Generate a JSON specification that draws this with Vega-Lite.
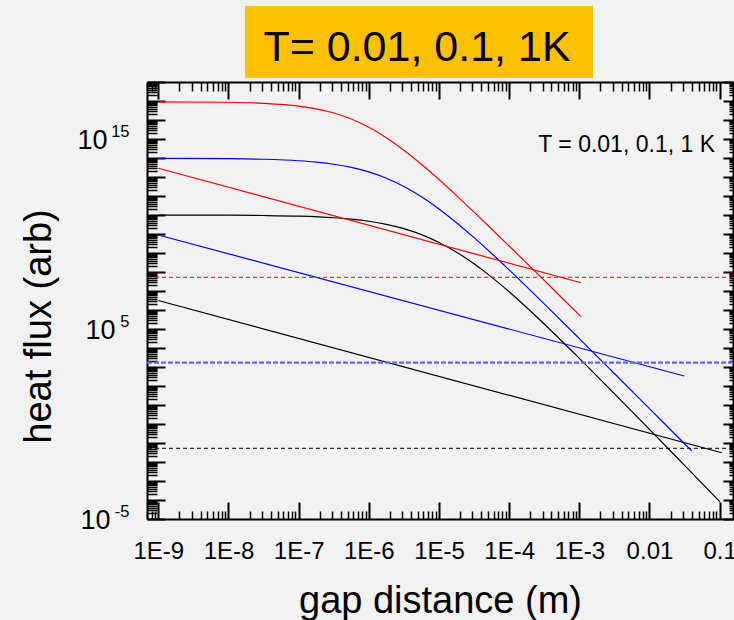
{
  "$schema": "https://vega.github.io/schema/vega-lite/v6.json",
  "width": 586,
  "height": 437,
  "autosize": "none",
  "padding": {"left": 147, "top": 82, "right": 1, "bottom": 101},
  "background": "#F2F2F2",
  "config": {
    "view": {"stroke": null},
    "font": "Liberation Sans",
    "axis": {"grid": false, "domainColor": "#000000", "tickColor": "#000000", "labelColor": "#000000", "titleColor": "#000000", "labelFlush": false, "labelOverlap": false}
  },
  "datasets": {
    "curves": [
      {"T": "1 K", "curve": "1 K near", "x": 1e-9, "y": 9.10e16},
      {"T": "1 K", "curve": "1 K near", "x": 1e-8, "y": 8.57e16},
      {"T": "1 K", "curve": "1 K near", "x": 3.162e-8, "y": 7.55e16},
      {"T": "1 K", "curve": "1 K near", "x": 1e-7, "y": 5.38e16},
      {"T": "1 K", "curve": "1 K near", "x": 1.778e-7, "y": 3.85e16},
      {"T": "1 K", "curve": "1 K near", "x": 3.162e-7, "y": 2.33e16},
      {"T": "1 K", "curve": "1 K near", "x": 5.623e-7, "y": 1.12e16},
      {"T": "1 K", "curve": "1 K near", "x": 1e-6, "y": 4.14e15},
      {"T": "1 K", "curve": "1 K near", "x": 1.778e-6, "y": 1.164e15},
      {"T": "1 K", "curve": "1 K near", "x": 3.162e-6, "y": 2.57e14},
      {"T": "1 K", "curve": "1 K near", "x": 5.623e-6, "y": 4.67e13},
      {"T": "1 K", "curve": "1 K near", "x": 1e-5, "y": 7.36e12},
      {"T": "1 K", "curve": "1 K near", "x": 1.778e-5, "y": 1.054e12},
      {"T": "1 K", "curve": "1 K near", "x": 3.162e-5, "y": 1.419e11},
      {"T": "1 K", "curve": "1 K near", "x": 5.623e-5, "y": 1.841e10},
      {"T": "1 K", "curve": "1 K near", "x": 1e-4, "y": 2.328e9},
      {"T": "1 K", "curve": "1 K near", "x": 3.162e-4, "y": 3.606e7},
      {"T": "1 K", "curve": "1 K near", "x": 5.623e-4, "y": 4.44e6},
      {"T": "1 K", "curve": "1 K near", "x": 1.057e-3, "y": 4.46e5},
      {"T": "0.1 K", "curve": "0.1 K near", "x": 1e-9, "y": 9.57e13},
      {"T": "0.1 K", "curve": "0.1 K near", "x": 1e-8, "y": 9.20e13},
      {"T": "0.1 K", "curve": "0.1 K near", "x": 3.162e-8, "y": 8.57e13},
      {"T": "0.1 K", "curve": "0.1 K near", "x": 1e-7, "y": 7.16e13},
      {"T": "0.1 K", "curve": "0.1 K near", "x": 1.778e-7, "y": 6.05e13},
      {"T": "0.1 K", "curve": "0.1 K near", "x": 3.162e-7, "y": 4.69e13},
      {"T": "0.1 K", "curve": "0.1 K near", "x": 5.623e-7, "y": 3.20e13},
      {"T": "0.1 K", "curve": "0.1 K near", "x": 1e-6, "y": 1.845e13},
      {"T": "0.1 K", "curve": "0.1 K near", "x": 1.778e-6, "y": 8.63e12},
      {"T": "0.1 K", "curve": "0.1 K near", "x": 3.162e-6, "y": 3.17e12},
      {"T": "0.1 K", "curve": "0.1 K near", "x": 5.623e-6, "y": 9.12e11},
      {"T": "0.1 K", "curve": "0.1 K near", "x": 1e-5, "y": 2.09e11},
      {"T": "0.1 K", "curve": "0.1 K near", "x": 1.778e-5, "y": 3.94e10},
      {"T": "0.1 K", "curve": "0.1 K near", "x": 3.162e-5, "y": 6.43e9},
      {"T": "0.1 K", "curve": "0.1 K near", "x": 5.623e-5, "y": 9.44e8},
      {"T": "0.1 K", "curve": "0.1 K near", "x": 1e-4, "y": 1.285e8},
      {"T": "0.1 K", "curve": "0.1 K near", "x": 3.162e-4, "y": 2.094e6},
      {"T": "0.1 K", "curve": "0.1 K near", "x": 1e-3, "y": 3.14e4},
      {"T": "0.1 K", "curve": "0.1 K near", "x": 3.162e-3, "y": 454},
      {"T": "0.1 K", "curve": "0.1 K near", "x": 0.01, "y": 6.47},
      {"T": "0.1 K", "curve": "0.1 K near", "x": 0.03162, "y": 0.0916},
      {"T": "0.1 K", "curve": "0.1 K near", "x": 0.04, "y": 0.0385},
      {"T": "0.01 K", "curve": "0.01 K near", "x": 1e-9, "y": 9.95e10},
      {"T": "0.01 K", "curve": "0.01 K near", "x": 1e-8, "y": 9.75e10},
      {"T": "0.01 K", "curve": "0.01 K near", "x": 3.162e-8, "y": 9.42e10},
      {"T": "0.01 K", "curve": "0.01 K near", "x": 1e-7, "y": 8.69e10},
      {"T": "0.01 K", "curve": "0.01 K near", "x": 3.162e-7, "y": 7.18e10},
      {"T": "0.01 K", "curve": "0.01 K near", "x": 5.623e-7, "y": 6.04e10},
      {"T": "0.01 K", "curve": "0.01 K near", "x": 1e-6, "y": 4.68e10},
      {"T": "0.01 K", "curve": "0.01 K near", "x": 1.778e-6, "y": 3.22e10},
      {"T": "0.01 K", "curve": "0.01 K near", "x": 3.162e-6, "y": 1.905e10},
      {"T": "0.01 K", "curve": "0.01 K near", "x": 5.623e-6, "y": 9.27e9},
      {"T": "0.01 K", "curve": "0.01 K near", "x": 1e-5, "y": 3.60e9},
      {"T": "0.01 K", "curve": "0.01 K near", "x": 1.778e-5, "y": 1.107e9},
      {"T": "0.01 K", "curve": "0.01 K near", "x": 3.162e-5, "y": 2.70e8},
      {"T": "0.01 K", "curve": "0.01 K near", "x": 5.623e-5, "y": 5.38e7},
      {"T": "0.01 K", "curve": "0.01 K near", "x": 1e-4, "y": 9.10e6},
      {"T": "0.01 K", "curve": "0.01 K near", "x": 3.162e-4, "y": 1.84e5},
      {"T": "0.01 K", "curve": "0.01 K near", "x": 1e-3, "y": 2858},
      {"T": "0.01 K", "curve": "0.01 K near", "x": 3.162e-3, "y": 39.4},
      {"T": "0.01 K", "curve": "0.01 K near", "x": 0.01, "y": 0.518},
      {"T": "0.01 K", "curve": "0.01 K near", "x": 0.03162, "y": 0.00661},
      {"T": "0.01 K", "curve": "0.01 K near", "x": 0.1009, "y": 8.09e-5},
      {"T": "1 K", "curve": "1 K far", "x": 1e-9, "y": 2.88e13},
      {"T": "1 K", "curve": "1 K far", "x": 1.057e-3, "y": 2.73e7},
      {"T": "0.1 K", "curve": "0.1 K far", "x": 1e-9, "y": 8.85e9},
      {"T": "0.1 K", "curve": "0.1 K far", "x": 0.0313, "y": 336},
      {"T": "0.01 K", "curve": "0.01 K far", "x": 1e-9, "y": 3.16e6},
      {"T": "0.01 K", "curve": "0.01 K far", "x": 0.107, "y": 0.0308}
    ],
    "limits": [
      {"T": "1 K", "y": 5.26e7},
      {"T": "0.1 K", "y": 1680},
      {"T": "0.01 K", "y": 0.0526}
    ]
  },
  "layer": [
    {
      "data": {"name": "curves"},
      "mark": {"type": "line", "strokeWidth": 1.2, "interpolate": "monotone"},
      "encoding": {
        "x": {
          "field": "x", "type": "quantitative",
          "scale": {"type": "log", "domain": [6.9e-10, 0.155], "nice": false},
          "axis": {
            "orient": "bottom",
            "values": [1e-9, 1e-8, 1e-7, 1e-6, 1e-5, 1e-4, 1e-3, 0.01, 0.1],
            "tickSize": -17, "tickWidth": 2, "domainWidth": 2,
            "labelPadding": 37, "labelFontSize": 24,
            "labelExpr": "datum.value > 0.05 ? '0.1' : datum.value > 0.005 ? '0.01' : '1E' + round(log(datum.value) / LN10)",
            "title": "gap distance (m)", "titleFontSize": 38, "titleFontWeight": "normal",
            "titleX": 293, "titleY": 93, "titleAlign": "center", "titleBaseline": "alphabetic"
          }
        },
        "y": {
          "field": "y", "type": "quantitative",
          "scale": {"type": "log", "domain": [1e-5, 1e18], "nice": false},
          "axis": {
            "orient": "left",
            "values": [1e-5, 1e-4, 1e-3, 1e-2, 1e-1, 1, 10, 100, 1e3, 1e4, 1e5, 1e6, 1e7, 1e8, 1e9, 1e10, 1e11, 1e12, 1e13, 1e14, 1e15, 1e16, 1e17, 1e18],
            "tickSize": -18, "tickWidth": 2, "domainWidth": 2,
            "labelPadding": {"condition": [{"test": "datum.value > 1e10", "value": 58}, {"test": "datum.value > 1", "value": 50}], "value": 55},
            "labelFontSize": 27, "labelOffset": 1.5, "labelBaseline": "middle",
            "labelExpr": "(abs(log(datum.value) / LN10 - 15) < 0.01 || abs(log(datum.value) / LN10 - 5) < 0.01 || abs(log(datum.value) / LN10 + 5) < 0.01) ? '10' : ''",
            "title": "heat flux (arb)", "titleFontSize": 38, "titleFontWeight": "normal",
            "titleX": -97, "titleY": 244, "titleAngle": -90, "titleAlign": "center", "titleBaseline": "alphabetic"
          }
        },
        "color": {
          "field": "T", "type": "nominal",
          "scale": {"domain": ["1 K", "0.1 K", "0.01 K"], "range": ["#FF0000", "#0000FF", "#000000"]},
          "legend": null
        },
        "detail": {"field": "curve"}
      }
    },
    {
      "data": {"name": "limits"},
      "mark": {"type": "rule"},
      "encoding": {
        "y": {
          "field": "y", "type": "quantitative",
          "scale": {"type": "log", "domain": [1e-5, 1e18], "nice": false},
          "axis": {
            "orient": "left",
            "values": [2e-5,3e-5,4e-5,5e-5,6e-5,7e-5,8e-5,9e-5,2e-4,3e-4,4e-4,5e-4,6e-4,7e-4,8e-4,9e-4,2e-3,3e-3,4e-3,5e-3,6e-3,7e-3,8e-3,9e-3,0.02,0.03,0.04,0.05,0.06,0.07,0.08,0.09,0.2,0.3,0.4,0.5,0.6,0.7,0.8,0.9,2,3,4,5,6,7,8,9,20,30,40,50,60,70,80,90,200,300,400,500,600,700,800,900,2e3,3e3,4e3,5e3,6e3,7e3,8e3,9e3,2e4,3e4,4e4,5e4,6e4,7e4,8e4,9e4,2e5,3e5,4e5,5e5,6e5,7e5,8e5,9e5,2e6,3e6,4e6,5e6,6e6,7e6,8e6,9e6,2e7,3e7,4e7,5e7,6e7,7e7,8e7,9e7,2e8,3e8,4e8,5e8,6e8,7e8,8e8,9e8,2e9,3e9,4e9,5e9,6e9,7e9,8e9,9e9,2e10,3e10,4e10,5e10,6e10,7e10,8e10,9e10,2e11,3e11,4e11,5e11,6e11,7e11,8e11,9e11,2e12,3e12,4e12,5e12,6e12,7e12,8e12,9e12,2e13,3e13,4e13,5e13,6e13,7e13,8e13,9e13,2e14,3e14,4e14,5e14,6e14,7e14,8e14,9e14,2e15,3e15,4e15,5e15,6e15,7e15,8e15,9e15,2e16,3e16,4e16,5e16,6e16,7e16,8e16,9e16,2e17,3e17,4e17,5e17,6e17,7e17,8e17,9e17],
            "tickSize": -10, "tickWidth": 1.5, "labels": false, "domain": false, "title": null
          }
        },
        "color": {
          "field": "T", "type": "nominal",
          "scale": {"domain": ["1 K", "0.1 K", "0.01 K"], "range": ["#FF0000", "#6464FF", "#000000"]},
          "legend": null
        },
        "strokeDash": {
          "field": "T", "type": "nominal",
          "scale": {"domain": ["1 K", "0.1 K", "0.01 K"], "range": [[4, 3], [5, 2], [4, 3]]},
          "legend": null
        },
        "strokeWidth": {
          "field": "T", "type": "nominal",
          "scale": {"type": "ordinal", "domain": ["1 K", "0.1 K", "0.01 K"], "range": [1, 2.2, 1]},
          "legend": null
        }
      }
    },
    {
      "data": {"values": [{}]},
      "mark": {"type": "rect", "color": "#FFC000"},
      "encoding": {
        "x": {
          "datum": 1.72e-8, "type": "quantitative",
          "scale": {"type": "log", "domain": [6.9e-10, 0.155], "nice": false},
          "axis": {
            "orient": "top",
            "values": [1e-9, 1e-8, 1e-7, 1e-6, 1e-5, 1e-4, 1e-3, 0.01, 0.1],
            "tickSize": -17, "tickWidth": 2, "domainWidth": 2, "labels": false, "title": null
          }
        },
        "x2": {"datum": 1.567e-3},
        "y": {
          "datum": 1e22, "type": "quantitative",
          "scale": {"type": "log", "domain": [1e-5, 1e18], "nice": false},
          "axis": {
            "orient": "right",
            "values": [1e-5, 1e-4, 1e-3, 1e-2, 1e-1, 1, 10, 100, 1e3, 1e4, 1e5, 1e6, 1e7, 1e8, 1e9, 1e10, 1e11, 1e12, 1e13, 1e14, 1e15, 1e16, 1e17, 1e18],
            "tickSize": -10, "tickWidth": 2, "domainWidth": 2, "labels": false, "title": null
          }
        },
        "y2": {"datum": 1.62e18}
      }
    },
    {
      "data": {"values": [{}]},
      "mark": {"type": "text", "text": "T= 0.01, 0.1, 1K", "fontSize": 43, "align": "center", "baseline": "alphabetic", "color": "#000000"},
      "encoding": {
        "x": {
          "datum": 4.86e-6, "type": "quantitative",
          "scale": {"type": "log", "domain": [6.9e-10, 0.155], "nice": false},
          "axis": {
            "orient": "top",
            "values": [7e-10,8e-10,9e-10,2e-9,3e-9,4e-9,5e-9,6e-9,7e-9,8e-9,9e-9,2e-8,3e-8,4e-8,5e-8,6e-8,7e-8,8e-8,9e-8,2e-7,3e-7,4e-7,5e-7,6e-7,7e-7,8e-7,9e-7,2e-6,3e-6,4e-6,5e-6,6e-6,7e-6,8e-6,9e-6,2e-5,3e-5,4e-5,5e-5,6e-5,7e-5,8e-5,9e-5,2e-4,3e-4,4e-4,5e-4,6e-4,7e-4,8e-4,9e-4,2e-3,3e-3,4e-3,5e-3,6e-3,7e-3,8e-3,9e-3,0.02,0.03,0.04,0.05,0.06,0.07,0.08,0.09],
            "tickSize": -9, "tickWidth": 1.5, "labels": false, "domain": false, "title": null
          }
        },
        "y": {
          "datum": 1.27e19, "type": "quantitative",
          "scale": {"type": "log", "domain": [1e-5, 1e18], "nice": false},
          "axis": {
            "orient": "right",
            "values": [2e-5,3e-5,4e-5,5e-5,6e-5,7e-5,8e-5,9e-5,2e-4,3e-4,4e-4,5e-4,6e-4,7e-4,8e-4,9e-4,2e-3,3e-3,4e-3,5e-3,6e-3,7e-3,8e-3,9e-3,0.02,0.03,0.04,0.05,0.06,0.07,0.08,0.09,0.2,0.3,0.4,0.5,0.6,0.7,0.8,0.9,2,3,4,5,6,7,8,9,20,30,40,50,60,70,80,90,200,300,400,500,600,700,800,900,2e3,3e3,4e3,5e3,6e3,7e3,8e3,9e3,2e4,3e4,4e4,5e4,6e4,7e4,8e4,9e4,2e5,3e5,4e5,5e5,6e5,7e5,8e5,9e5,2e6,3e6,4e6,5e6,6e6,7e6,8e6,9e6,2e7,3e7,4e7,5e7,6e7,7e7,8e7,9e7,2e8,3e8,4e8,5e8,6e8,7e8,8e8,9e8,2e9,3e9,4e9,5e9,6e9,7e9,8e9,9e9,2e10,3e10,4e10,5e10,6e10,7e10,8e10,9e10,2e11,3e11,4e11,5e11,6e11,7e11,8e11,9e11,2e12,3e12,4e12,5e12,6e12,7e12,8e12,9e12,2e13,3e13,4e13,5e13,6e13,7e13,8e13,9e13,2e14,3e14,4e14,5e14,6e14,7e14,8e14,9e14,2e15,3e15,4e15,5e15,6e15,7e15,8e15,9e15,2e16,3e16,4e16,5e16,6e16,7e16,8e16,9e16,2e17,3e17,4e17,5e17,6e17,7e17,8e17,9e17],
            "tickSize": -4, "tickWidth": 1.5, "labels": false, "domain": false, "title": null
          }
        }
      }
    },
    {
      "data": {"values": [{}]},
      "mark": {"type": "text", "text": "T = 0.01, 0.1, 1 K", "fontSize": 23, "align": "right", "baseline": "alphabetic", "color": "#000000"},
      "encoding": {
        "x": {"datum": 0.0858, "type": "quantitative", "scale": {"type": "log", "domain": [6.9e-10, 0.155], "nice": false}, "axis": null},
        "y": {"datum": 2.15e14, "type": "quantitative", "scale": {"type": "log", "domain": [1e-5, 1e18], "nice": false},
          "axis": {
            "orient": "left",
            "values": [1e-5, 1e5, 1e15],
            "ticks": false, "domain": false, "title": null,
            "labelPadding": 18, "labelAlign": "right", "labelBaseline": "middle", "labelOffset": -8,
            "labelFontSize": 16.5,
            "labelExpr": "datum.value > 1e10 ? '15' : datum.value > 1 ? '5' : '-5'"
          }
        }
      }
    },
    {
      "data": {"values": [{}]},
      "mark": {"type": "text", "text": "", "opacity": 0},
      "encoding": {
        "x": {"datum": 1e-5, "type": "quantitative", "scale": {"type": "log", "domain": [6.9e-10, 0.155], "nice": false},
          "axis": {
            "orient": "bottom",
            "values": [7e-10,8e-10,9e-10,2e-9,3e-9,4e-9,5e-9,6e-9,7e-9,8e-9,9e-9,2e-8,3e-8,4e-8,5e-8,6e-8,7e-8,8e-8,9e-8,2e-7,3e-7,4e-7,5e-7,6e-7,7e-7,8e-7,9e-7,2e-6,3e-6,4e-6,5e-6,6e-6,7e-6,8e-6,9e-6,2e-5,3e-5,4e-5,5e-5,6e-5,7e-5,8e-5,9e-5,2e-4,3e-4,4e-4,5e-4,6e-4,7e-4,8e-4,9e-4,2e-3,3e-3,4e-3,5e-3,6e-3,7e-3,8e-3,9e-3,0.02,0.03,0.04,0.05,0.06,0.07,0.08,0.09],
            "tickSize": -8, "tickWidth": 1.5, "labels": false, "domain": false, "title": null
          }
        },
        "y": {"datum": 1, "type": "quantitative", "scale": {"type": "log", "domain": [1e-5, 1e18], "nice": false}, "axis": null}
      }
    }
  ],
  "resolve": {
    "axis": {"x": "independent", "y": "independent"},
    "scale": {"color": "independent"}
  }
}
